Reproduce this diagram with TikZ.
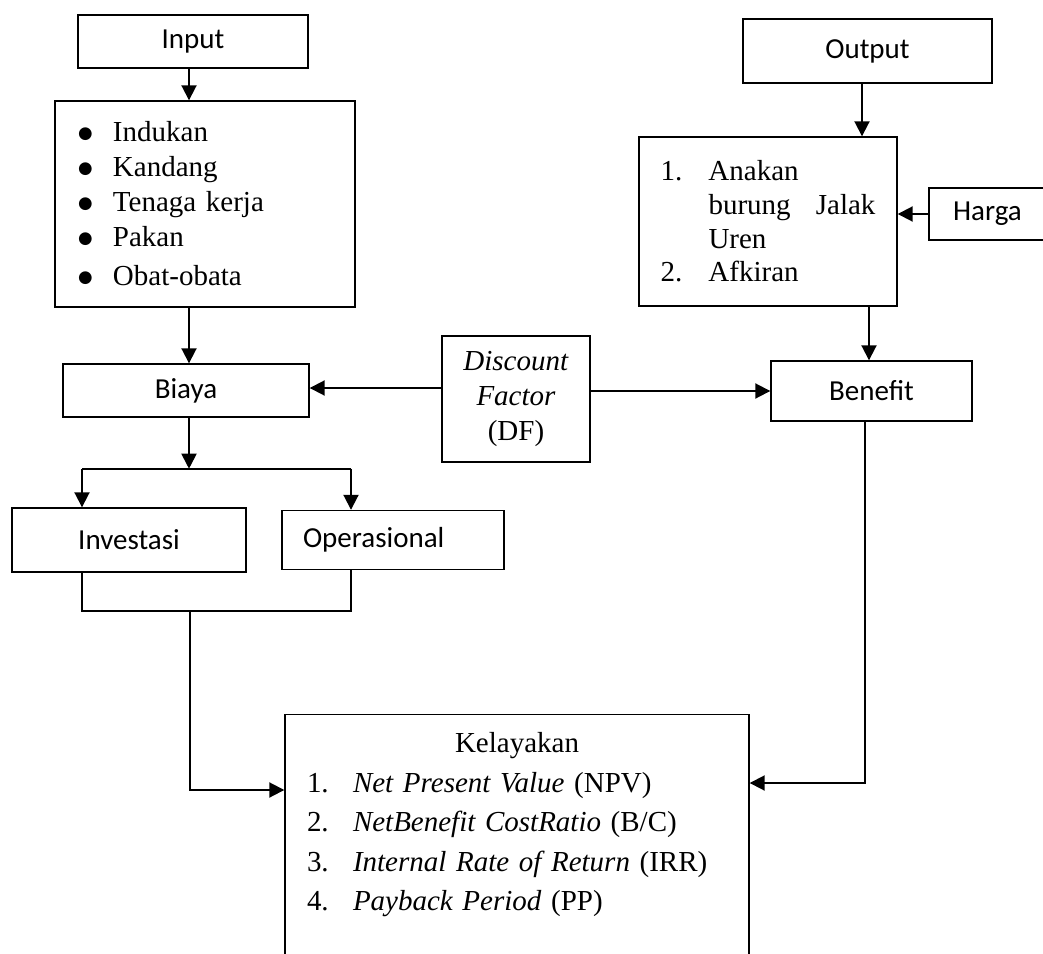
\documentclass[tikz,border=0pt]{standalone}
\usepackage{fontspec}
\setmainfont{Liberation Serif}
\newfontfamily\calibri{Carlito}
\newfontfamily\dotfont{DejaVu Sans}
\usetikzlibrary{arrows.meta,positioning}
\tikzstyle{block} = [draw, rectangle, line width=0.8pt, inner sep=0pt, font=\calibri\fontsize{16.5}{19.8}\selectfont]
\tikzstyle{listbox} = [draw, rectangle, line width=0.8pt, inner sep=0pt, align=left, font=\fontsize{16.5}{19.9}\selectfont]
\tikzstyle{link} = [line width=1.1pt]
\newcommand{\bigbul}{\makebox[0.7cm][l]{\raisebox{0.06cm}{\dotfont\fontsize{9.5}{9.5}\selectfont ●}}}

\begin{document}
\begin{tikzpicture}[auto, node distance=2cm, >={Triangle[length=0.3cm, width=0.3cm]}]

\useasboundingbox (0,0) rectangle (20.86,-19.08);
\clip (0,0) rectangle (20.86,-19.08);

% kolom biaya
\node [block, minimum width=4.6cm, minimum height=1.06cm] (input) at (3.86,-0.83) {Input};
\node [listbox, below of=input, xshift=0.24cm, node distance=3.25cm, minimum width=6cm, minimum height=4.12cm, text width=5.08cm] (bahan) {\bigbul Indukan\\ \bigbul Kandang\\ \bigbul Tenaga kerja\\ \bigbul Pakan\\[0.08cm] \bigbul Obat-obata};
\node [block, below of=bahan, xshift=-0.38cm, node distance=3.73cm, minimum width=4.92cm, minimum height=1.06cm] (biaya) {Biaya};
\node [block, below of=biaya, xshift=-1.14cm, node distance=2.99cm, minimum width=4.68cm, minimum height=1.28cm] (investasi) {Investasi};
\node [block, right of=investasi, node distance=5.28cm, minimum width=4.44cm, minimum height=1.18cm, text width=3.6cm, align=left] (operasional) {Operasional};

% discount factor
\node [block, right of=biaya, yshift=-0.17cm, node distance=6.6cm, line width=0.6pt, minimum width=2.96cm, minimum height=2.52cm, align=center, font=\fontsize{16.5}{19.9}\selectfont] (df) {\textit{Discount}\\ \textit{Factor}\\ (DF)};

% kolom benefit
\node [block, right of=df, yshift=0.16cm, node distance=7.11cm, minimum width=4.02cm, minimum height=1.2cm] (benefit) {Benefit};
\node [listbox, above of=benefit, xshift=-2.07cm, node distance=3.39cm, minimum width=5.16cm, minimum height=3.38cm, text width=4.3cm, font=\fontsize{16.5}{19.2}\selectfont] (hasil) {\makebox[0.96cm][l]{1.}Anakan\\ \hspace*{0.96cm}\makebox[3.34cm][l]{burung\hfill Jalak}\\ \hspace*{0.96cm}Uren\\ \makebox[0.96cm][l]{2.}Afkiran};
\node [block, above of=hasil, xshift=1.99cm, node distance=3.41cm, minimum width=4.98cm, minimum height=1.28cm] (output) {Output};
\node [block, right of=hasil, yshift=0.15cm, node distance=4.39cm, minimum width=2.34cm, minimum height=1.04cm] (harga) {Harga};

% kelayakan
\node [listbox, anchor=north, minimum width=9.28cm, text width=8.4cm, inner ysep=0.36cm, font=\fontsize{16.5}{22.5}\selectfont] (layak) at (10.34,-14.28) {\makebox[8.4cm]{Kelayakan}\\ \makebox[0.92cm][l]{1.}\textit{Net Present Value} (NPV)\\ \makebox[0.92cm][l]{2.}\textit{NetBenefit CostRatio} (B/C)\\ \makebox[0.92cm][l]{3.}\textit{Internal Rate of Return} (IRR)\\ \makebox[0.92cm][l]{4.}\textit{Payback Period} (PP)\\ \mbox{}};

\coordinate (split) at ([xshift=0.06cm, yshift=-1.02cm]biaya.south);
\coordinate (splitL) at ([xshift=-0.94cm]investasi.north |- split);
\coordinate (splitR) at ([xshift=-0.84cm]operasional.north |- split);
\coordinate (joinL) at ([xshift=-0.94cm, yshift=-0.76cm]investasi.south);
\coordinate (joinR) at (splitR |- joinL);
\coordinate (joinM) at ([xshift=2.16cm]joinL);

\draw [link, ->] ([xshift=-0.08cm]input.south) -- ([xshift=-0.08cm]input.south |- bahan.north);
\draw [link, ->] ([xshift=-0.32cm]bahan.south) -- ([xshift=-0.32cm]bahan.south |- biaya.north);
\draw [link, ->] ([xshift=0.06cm]biaya.south) -- (split);
\draw [link] (splitL) -- (splitR);
\draw [link, ->] (splitL) -- (splitL |- investasi.north);
\draw [link, ->] (splitR) -- (splitR |- operasional.north);
\draw [link] (splitL |- investasi.south) -- (joinL) -- (joinR) -- (splitR |- operasional.south);
\draw [link, ->] (joinM) |- ([yshift=-1.52cm]layak.north west);

\draw [link, ->] ([yshift=0.22cm]df.west) -- ([yshift=0.22cm]df.west -| biaya.east);
\draw [link, ->] (df.east |- benefit.west) -- (benefit.west);

\draw [link, ->] ([xshift=-0.11cm]output.south) -- ([xshift=-0.11cm]output.south |- hasil.north);
\draw [link, ->] (harga.west) -- (harga.west -| hasil.east);
\draw [link, ->] ([xshift=2.02cm]hasil.south) -- ([xshift=2.02cm]hasil.south |- benefit.north);
\draw [link, ->] ([xshift=-0.13cm]benefit.south) |- ([yshift=-1.38cm]layak.north east);

\end{tikzpicture}
\end{document}
